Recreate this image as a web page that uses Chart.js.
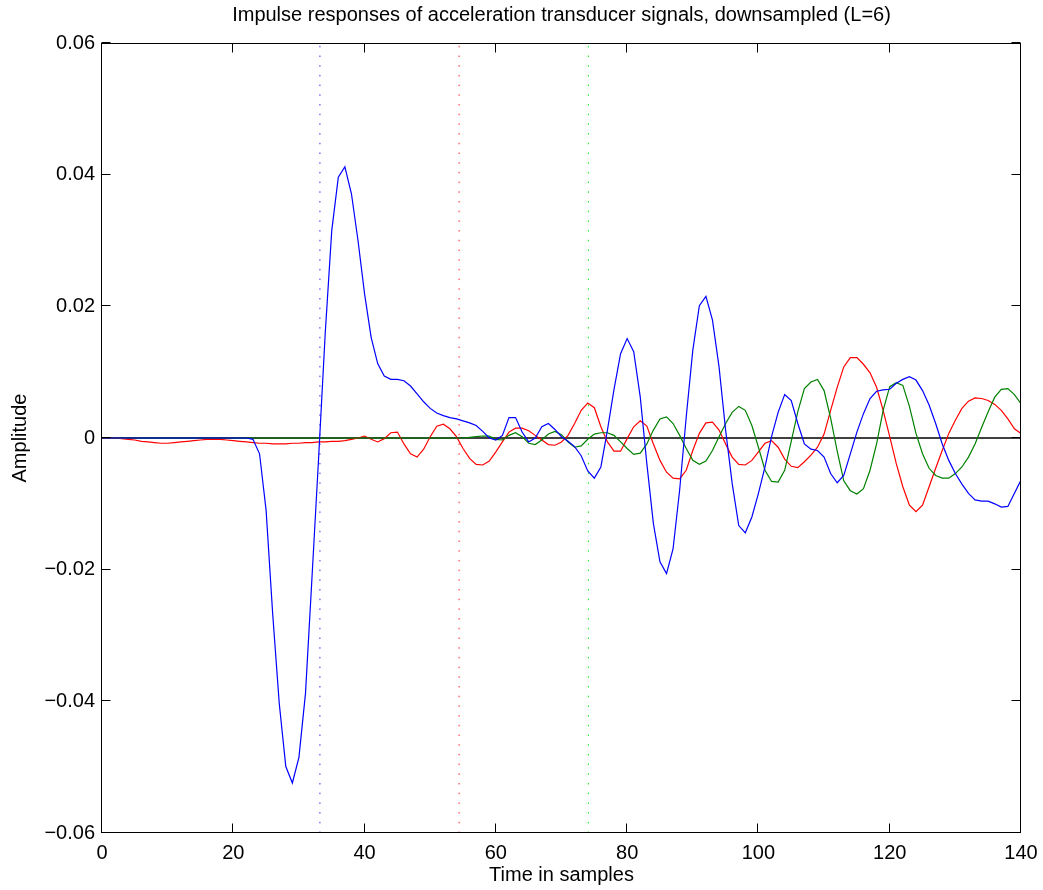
<!DOCTYPE html>
<html>
<head>
<meta charset="utf-8">
<title>Impulse responses</title>
<script src="https://cdn.jsdelivr.net/npm/chart.js@4.4.0/dist/chart.umd.min.js"></script>
<style>
  html, body { margin: 0; padding: 0; background: #fff; }
</style>
</head>
<body>
<canvas id="myChart" width="1043" height="890"></canvas>
<script>
// impulse responses, one value per sample (0..140)
var blueSignal = [
    0, 0, 0, 0, 0, 0, 0, 0, 0, 0,
    0, 0, 0, 0, 0, 0, 0, 0, 0, 0,
    0, 0, 0, -0.0002, -0.0024, -0.0110, -0.0267, -0.0403, -0.0499, -0.0524,
    -0.0485, -0.0388, -0.0210, -0.0030, 0.0158, 0.0315, 0.0396, 0.0412, 0.0371, 0.0300,
    0.0219, 0.0153, 0.0113, 0.0094, 0.0089, 0.0089, 0.0087, 0.0079, 0.0067, 0.0055,
    0.0045, 0.0038, 0.0034, 0.0031, 0.0029, 0.0026, 0.0023, 0.0019, 0.0010, 0.0000,
    -0.0003, 0.0004, 0.0031, 0.0031, 0.0009, -0.0006, 0.0000, 0.0017, 0.0022, 0.0013,
    0.0002, -0.0005, -0.0013, -0.0027, -0.0050, -0.0061, -0.0044, 0.0012, 0.0074, 0.0128,
    0.0151, 0.0131, 0.0062, -0.0039, -0.0130, -0.0188, -0.0206, -0.0168, -0.0079, 0.0032,
    0.0133, 0.0201, 0.0215, 0.0179, 0.0108, 0.0012, -0.0069, -0.0133, -0.0144, -0.0120,
    -0.0084, -0.0044, 0.0002, 0.0039, 0.0066, 0.0057, 0.0022, -0.0009, -0.0017, -0.0019,
    -0.0029, -0.0054, -0.0068, -0.0057, -0.0024, 0.0009, 0.0037, 0.0060, 0.0071, 0.0073,
    0.0074, 0.0083, 0.0089, 0.0093, 0.0088, 0.0072, 0.0050, 0.0022, -0.0009, -0.0034,
    -0.0054, -0.0070, -0.0084, -0.0094, -0.0096, -0.0096, -0.0100, -0.0105, -0.0104, -0.0084,
    -0.0064
];

var redSignal = [
    0, 0, 0, -0.0001, -0.0002, -0.0003, -0.0005, -0.0006, -0.0007, -0.0008,
    -0.0008, -0.0007, -0.0006, -0.0005, -0.0004, -0.0003, -0.0002, -0.0002, -0.0002, -0.0003,
    -0.0004, -0.0005, -0.0006, -0.0007, -0.0008, -0.0008, -0.0009, -0.0009, -0.0009, -0.0008,
    -0.0008, -0.0007, -0.0007, -0.0006, -0.0006, -0.0005, -0.0005, -0.0004, -0.0002, 0.0000,
    0.0003, -0.0002, -0.0006, -0.0001, 0.0008, 0.0009, -0.0009, -0.0024, -0.0029, -0.0017,
    0.0002, 0.0018, 0.0021, 0.0014, 0.0002, -0.0016, -0.0031, -0.0040, -0.0041, -0.0035,
    -0.0021, -0.0006, 0.0009, 0.0015, 0.0015, 0.0011, 0.0004, -0.0003, -0.0010, -0.0011,
    -0.0006, 0.0004, 0.0022, 0.0042, 0.0053, 0.0046, 0.0017, -0.0006, -0.0020, -0.0020,
    -0.0001, 0.0017, 0.0026, 0.0018, -0.0009, -0.0034, -0.0052, -0.0061, -0.0062, -0.0049,
    -0.0019, 0.0007, 0.0023, 0.0024, 0.0012, -0.0009, -0.0029, -0.0040, -0.0041, -0.0034,
    -0.0021, -0.0008, -0.0004, -0.0014, -0.0032, -0.0043, -0.0045, -0.0036, -0.0026, -0.0014,
    0.0006, 0.0042, 0.0077, 0.0108, 0.0122, 0.0122, 0.0112, 0.0099, 0.0077, 0.0042,
    0.0002, -0.0039, -0.0074, -0.0102, -0.0112, -0.0102, -0.0074, -0.0046, -0.0019, 0.0007,
    0.0027, 0.0045, 0.0056, 0.0061, 0.0060, 0.0057, 0.0051, 0.0042, 0.0029, 0.0014,
    0.0007
];

var greenSignal = [
    0, 0, 0, 0, 0, 0, 0, 0, 0, 0,
    0, 0, 0, 0, 0, 0, 0, 0, 0, 0,
    0, 0, 0, 0, 0, 0, 0, 0, 0, 0,
    0, 0, 0, 0, 0, 0, 0, 0, 0, 0,
    0, 0, 0, 0, 0, 0, 0, 0, 0, 0,
    0, 0, 0, 0, 0, 0, 0.0001, 0.0002, 0.0003, 0.0003,
    -0.0002, -0.0003, 0.0004, 0.0008, 0.0002, -0.0008, -0.0010, -0.0003, 0.0006, 0.0010,
    0.0005, -0.0006, -0.0014, -0.0012, -0.0002, 0.0006, 0.0008, 0.0008, 0.0004, -0.0006,
    -0.0016, -0.0025, -0.0023, -0.0009, 0.0012, 0.0029, 0.0032, 0.0022, 0.0004, -0.0016,
    -0.0034, -0.0040, -0.0035, -0.0019, 0.0002, 0.0022, 0.0039, 0.0048, 0.0042, 0.0019,
    -0.0014, -0.0049, -0.0066, -0.0067, -0.0049, -0.0005, 0.0040, 0.0075, 0.0085, 0.0089,
    0.0072, 0.0030, -0.0020, -0.0065, -0.0080, -0.0085, -0.0077, -0.0049, -0.0009, 0.0042,
    0.0078, 0.0084, 0.0080, 0.0048, 0.0007, -0.0024, -0.0046, -0.0057, -0.0061, -0.0061,
    -0.0054, -0.0044, -0.0029, -0.0009, 0.0016, 0.0040, 0.0062, 0.0074, 0.0075, 0.0066,
    0.0052
];

// estimated delays (samples) for blue, red, green
var delays = [33.2, 54.4, 74.1];

var xTicks = [0, 20, 40, 60, 80, 100, 120, 140];
var yTicks = [-0.06, -0.04, -0.02, 0, 0.02, 0.04, 0.06];

var FONT = '"Liberation Sans", Arial, Helvetica, sans-serif';

function toPoints(values) {
    return values.map(function(v, i) { return {x: i, y: v}; });
}

function delayLine(x) {
    return [{x: x, y: yTicks[0]}, {x: x, y: yTicks[yTicks.length - 1]}];
}

function fmtTick(v) {
    if (v === 0) return '0';
    return (v < 0 ? '\u2212' : '') + Math.abs(v).toFixed(2);
}

// box round the axes with inward ticks on all four sides
var framePlugin = {
    id: 'frame',
    afterDatasetsDraw: function(chart) {
        var ctx = chart.ctx;
        var a = chart.chartArea;
        var xs = chart.scales.x;
        var ys = chart.scales.y;
        var l = Math.round(a.left) - 0.5, r = Math.round(a.right) - 0.5;
        var t = Math.round(a.top) + 0.5, b = Math.round(a.bottom) - 0.5;
        var len = 9;
        ctx.save();
        ctx.strokeStyle = '#000';
        ctx.lineWidth = 1;
        ctx.strokeRect(l, t, r - l, b - t);
        ctx.beginPath();
        xTicks.forEach(function(v) {
            var px = Math.round(xs.getPixelForValue(v)) - 0.5;
            ctx.moveTo(px, b); ctx.lineTo(px, b - len);
            ctx.moveTo(px, t); ctx.lineTo(px, t + len);
        });
        yTicks.forEach(function(v) {
            var py = Math.round(ys.getPixelForValue(v)) - 0.5;
            ctx.moveTo(l, py); ctx.lineTo(l + len, py);
            ctx.moveTo(r, py); ctx.lineTo(r - len, py);
        });
        ctx.stroke();
        ctx.restore();
    }
};

var ctx = document.getElementById('myChart').getContext('2d');

var chart = new Chart(ctx, {
    type: 'line',
    data: {
        datasets: [
            {data: toPoints(blueSignal), borderColor: '#0000ff', borderWidth: 1.2},
            {data: toPoints(greenSignal), borderColor: '#008000', borderWidth: 1.2},
            {data: toPoints(redSignal), borderColor: '#ff0000', borderWidth: 1.2},
            {data: [{x: 0, y: 0}, {x: 140, y: 0}], borderColor: '#000', borderWidth: 1.3},
            {data: delayLine(delays[0]), borderColor: '#3030ff', borderWidth: 1, borderDash: [1.5, 8.2]},
            {data: delayLine(delays[1]), borderColor: '#ff2020', borderWidth: 1, borderDash: [1.5, 8.2]},
            {data: delayLine(delays[2]), borderColor: '#00ee00', borderWidth: 1, borderDash: [1.5, 8.2]}
        ]
    },
    options: {
        responsive: false,
        animation: false,
        devicePixelRatio: 1,
        elements: {
            point: {radius: 0, hoverRadius: 0},
            line: {tension: 0, fill: false}
        },
        layout: {padding: {left: 0, right: 22, top: 0, bottom: 0}},
        plugins: {
            legend: {display: false},
            tooltip: {enabled: false},
            title: {display: false}
        },
        scales: {
            x: {
                type: 'linear',
                min: 0,
                max: 140,
                grid: {display: false, drawTicks: false},
                border: {display: false},
                afterBuildTicks: function(scale) {
                    scale.ticks = xTicks.map(function(v) { return {value: v}; });
                },
                afterFit: function(scale) {
                    scale.height = 57;
                    scale.paddingLeft = 0;
                    scale.paddingRight = 0;
                },
                ticks: {
                    color: '#000',
                    padding: 8,
                    maxRotation: 0,
                    font: {family: FONT, size: 20}
                },
                title: {
                    display: true,
                    text: 'Time in samples',
                    color: '#000',
                    font: {family: FONT, size: 20},
                    padding: {top: 0, bottom: 3}
                }
            },
            // top axis only carries the title so it centres over the plot
            xTop: {
                type: 'linear',
                position: 'top',
                min: 0,
                max: 140,
                grid: {display: false, drawTicks: false},
                border: {display: false},
                ticks: {display: false},
                afterFit: function(scale) {
                    scale.height = 43;
                    scale.paddingLeft = 0;
                    scale.paddingRight = 0;
                },
                title: {
                    display: true,
                    text: 'Impulse responses of acceleration transducer signals, downsampled (L=6)',
                    color: '#000',
                    font: {family: FONT, size: 20},
                    padding: {top: 3, bottom: 0}
                }
            },
            y: {
                type: 'linear',
                min: -0.06,
                max: 0.06,
                grid: {display: false, drawTicks: false},
                border: {display: false},
                afterBuildTicks: function(scale) {
                    scale.ticks = yTicks.map(function(v) { return {value: v}; });
                },
                afterFit: function(scale) { scale.width = 102; },
                ticks: {
                    color: '#000',
                    padding: 7,
                    font: {family: FONT, size: 20},
                    callback: function(v) { return fmtTick(v); }
                },
                title: {
                    display: true,
                    text: 'Amplitude',
                    color: '#000',
                    font: {family: FONT, size: 20},
                    padding: {top: 8, bottom: 0}
                }
            }
        }
    },
    plugins: [framePlugin]
});
</script>
</body>
</html>
